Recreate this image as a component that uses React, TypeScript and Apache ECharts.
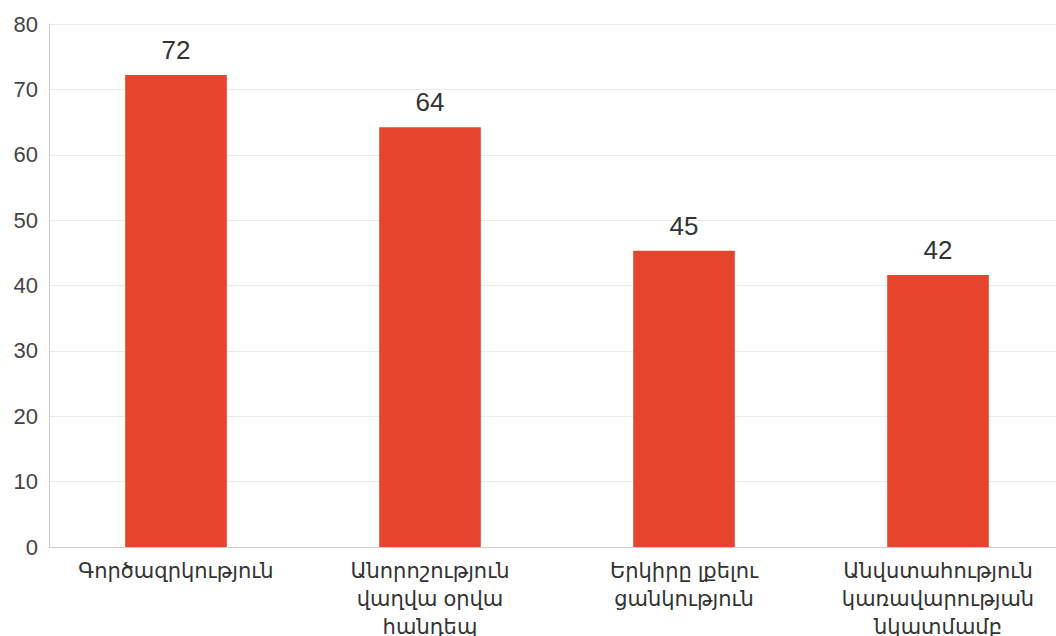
import React, { useEffect, useRef } from "react";
import * as echarts from "echarts";

const categories = [
  "Գործազրկություն",
  "Անորոշություն\nվաղվա օրվա\nհանդեպ",
  "Երկիրը լքելու\nցանկություն",
  "Անվստահություն\nկառավարության\nնկատմամբ",
];
const values = [72.2, 64.2, 45.3, 41.6];
const yTicks = { min: 0, max: 80, interval: 10 };

export default function App() {
  const ref = useRef<HTMLDivElement>(null);
  useEffect(() => {
    if (!ref.current) return;
    const chart = echarts.init(ref.current, undefined, { renderer: "svg" });
    chart.setOption({
      animation: false,
      textStyle: { fontFamily: "Liberation Sans, DejaVu Sans, sans-serif" },
      grid: {
        left: 49,
        width: 1016,
        top: 24,
        bottom: 89,
        containLabel: false,
        outerBoundsMode: "none",
      },
      xAxis: {
        type: "category",
        data: categories,
        axisLine: { lineStyle: { color: "#cccccc" } },
        axisTick: { show: false },
        axisLabel: {
          color: "#333333",
          fontSize: 21,
          lineHeight: 28,
          margin: 9,
          interval: 0,
        },
      },
      yAxis: {
        type: "value",
        min: yTicks.min,
        max: yTicks.max,
        interval: yTicks.interval,
        axisLine: { show: true, lineStyle: { color: "#cccccc" } },
        axisTick: { show: false },
        splitLine: { lineStyle: { color: "#ebebeb" } },
        axisLabel: { color: "#444444", fontSize: 22, margin: 11 },
      },
      series: [
        {
          type: "bar",
          data: values,
          barWidth: "40%",
          itemStyle: { color: "#E5452C" },
          label: {
            show: true,
            position: "top",
            color: "#333333",
            fontSize: 26,
            distance: 12,
            formatter: (p: any) => String(Math.round(p.value)),
          },
        },
      ],
    });
    return () => chart.dispose();
  }, []);
  return (
    <div
      ref={ref}
      style={{ position: "absolute", left: 0, top: 0, width: 1056, height: 636, overflow: "hidden" }}
    />
  );
}
